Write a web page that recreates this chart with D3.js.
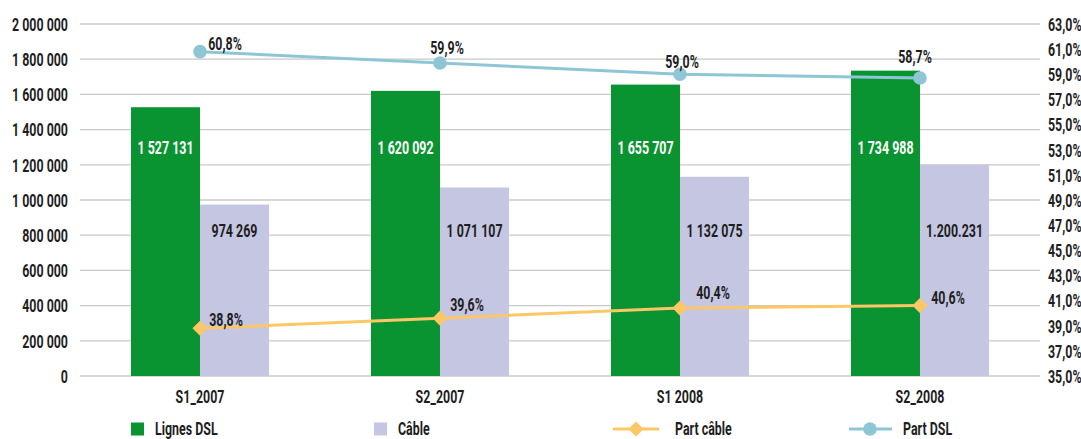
<!DOCTYPE html>
<html>
<head>
<meta charset="utf-8">
<script src="https://cdn.jsdelivr.net/npm/d3@7"></script>
<style>
  html, body { margin: 0; padding: 0; background: #fff; }
  svg { display: block; }
  text { font-family: Roboto, "Liberation Sans", sans-serif; font-weight: bold; fill: #1e1e1e; font-size: 18px; }
</style>
</head>
<body>
<svg id="chart" width="1081" height="439"></svg>
<script>
// ---- data ----
const categories = ["S1_2007", "S2_2007", "S1 2008", "S2_2008"];
const dslLines = [1527131, 1620092, 1655707, 1734988];
const dslLabels = ["1 527 131", "1 620 092", "1 655 707", "1 734 988"];
const cableLines = [974269, 1071107, 1132075, 1200231];
const cableLabels = ["974 269", "1 071 107", "1 132 075", "1.200.231"];
const partCable = [38.8, 39.6, 40.4, 40.6];
const partCableLabels = ["38,8%", "39,6%", "40,4%", "40,6%"];
const partDsl = [60.8, 59.9, 59.0, 58.7];
const partDslLabels = ["60,8%", "59,9%", "59,0%", "58,7%"];
const leftTicks = [0, 200000, 400000, 600000, 800000, 1000000, 1200000, 1400000, 1600000, 1800000, 2000000];
const rightTicks = [35, 37, 39, 41, 43, 45, 47, 49, 51, 53, 55, 57, 59, 61, 63];
const legendLabels = ["Lignes DSL", "Câble", "Part câble", "Part DSL"];

// ---- layout ----
const colors = { dsl: "#0a9331", cable: "#c5c6e2", pcable: "#fdc766", pdsl: "#8ec6d6", grid: "#c8c8c8" };
const plot = { left: 80, right: 1040, top: 24, bottom: 376 };
const SX = 0.69; // horizontal condensing of text
const dslLabelLevel = 1300000, cableLabelLevel = 825000;
const pCableOff = [[26, -9], [27, -13], [33, -15], [28, -8]];
const pDslOff = [[25, -8], [7, -15], [2, -13], [-5, -21]];

const svg = d3.select("#chart");
const fmtLeft = d => d3.format(",")(d).replace(/,/g, " ");
const fmtRight = d => d.toFixed(1).replace(".", ",") + "%";

function ctext(parent, x, y, str, anchor, fill) {
  return parent.append("text")
    .attr("transform", `translate(${x},${y}) scale(${SX},1)`)
    .attr("dy", "0.35em").attr("text-anchor", anchor || "middle")
    .style("fill", fill || "#1e1e1e").text(str);
}

const x = d3.scaleBand().domain(categories).range([plot.left, plot.right]).paddingInner(0).paddingOuter(0);
const bw = 69;
const y = d3.scaleLinear().domain([0, 2000000]).range([plot.bottom, plot.top]);
const y2 = d3.scaleLinear().domain([35, 63]).range([plot.bottom, plot.top]);
const cx = c => x(c) + x.bandwidth() / 2;

// gridlines
svg.append("g").selectAll("line").data(leftTicks).join("line")
  .attr("x1", plot.left).attr("x2", plot.right)
  .attr("y1", d => y(d)).attr("y2", d => y(d))
  .attr("stroke", colors.grid).attr("stroke-width", 1.3);

// left axis
const la = svg.append("g").attr("transform", `translate(${plot.left - 12},0)`)
  .call(d3.axisLeft(y).tickValues(leftTicks).tickFormat(fmtLeft).tickSize(0).tickPadding(0));
la.select(".domain").remove();
la.selectAll("text").attr("x", 0).attr("fill", "#1e1e1e").attr("dy", "0.35em")
  .attr("transform", `scale(${SX},1)`);

// right axis
const ra = svg.append("g").attr("transform", `translate(${plot.right + 8},0)`)
  .call(d3.axisRight(y2).tickValues(rightTicks).tickFormat(fmtRight).tickSize(0).tickPadding(0));
ra.select(".domain").remove();
ra.selectAll("text").attr("x", 0).attr("fill", "#1e1e1e").attr("dy", "0.35em")
  .attr("transform", `scale(${SX},1)`);

// x axis labels
const xa = svg.append("g").attr("transform", `translate(0,${plot.bottom + 21})`)
  .call(d3.axisBottom(x).tickSize(0).tickPadding(0));
xa.select(".domain").remove();
xa.selectAll("text").attr("y", 0).attr("fill", "#1e1e1e").attr("dy", "0.35em")
  .attr("transform", `scale(${SX},1)`);

// bars
svg.append("g").selectAll("rect").data(categories).join("rect")
  .attr("x", c => cx(c) - bw).attr("width", bw)
  .attr("y", (c, i) => y(dslLines[i])).attr("height", (c, i) => y(0) - y(dslLines[i]))
  .attr("fill", colors.dsl);
svg.append("g").selectAll("rect").data(categories).join("rect")
  .attr("x", c => cx(c)).attr("width", bw)
  .attr("y", (c, i) => y(cableLines[i])).attr("height", (c, i) => y(0) - y(cableLines[i]))
  .attr("fill", colors.cable);

// bar labels
const bl = svg.append("g");
categories.forEach((c, i) => {
  ctext(bl, cx(c) - bw / 2, y(dslLabelLevel), dslLabels[i], "middle", "#ffffff");
  ctext(bl, cx(c) + bw / 2, y(cableLabelLevel), cableLabels[i], "middle");
});

// lines
const lineC = d3.line().x((d, i) => cx(categories[i])).y(d => y2(d));
svg.append("path").datum(partCable).attr("d", lineC).attr("fill", "none")
  .attr("stroke", colors.pcable).attr("stroke-width", 3);
svg.append("path").datum(partDsl).attr("d", lineC).attr("fill", "none")
  .attr("stroke", colors.pdsl).attr("stroke-width", 3);

svg.append("g").selectAll("path").data(partCable).join("path")
  .attr("d", d3.symbol().type(d3.symbolSquare).size(115))
  .attr("transform", (d, i) => `translate(${cx(categories[i])},${y2(d)}) rotate(45)`)
  .attr("fill", colors.pcable);
svg.append("g").selectAll("circle").data(partDsl).join("circle")
  .attr("cx", (d, i) => cx(categories[i])).attr("cy", d => y2(d)).attr("r", 6.8)
  .attr("fill", colors.pdsl);

// line labels
const ll = svg.append("g");
partCable.forEach((d, i) => ctext(ll, cx(categories[i]) + pCableOff[i][0], y2(d) + pCableOff[i][1], partCableLabels[i]));
partDsl.forEach((d, i) => ctext(ll, cx(categories[i]) + pDslOff[i][0], y2(d) + pDslOff[i][1], partDslLabels[i]));

// legend
const ly = 429;
const lg = svg.append("g");
lg.append("rect").attr("x", 131).attr("y", ly - 6.5).attr("width", 13).attr("height", 13).attr("fill", colors.dsl);
ctext(lg, 155, ly, legendLabels[0], "start");
lg.append("rect").attr("x", 374).attr("y", ly - 6.5).attr("width", 13).attr("height", 13).attr("fill", colors.cable);
ctext(lg, 398, ly, legendLabels[1], "start");
lg.append("line").attr("x1", 613).attr("x2", 659).attr("y1", ly).attr("y2", ly).attr("stroke", colors.pcable).attr("stroke-width", 3);
lg.append("path").attr("d", d3.symbol().type(d3.symbolSquare).size(115)())
  .attr("transform", `translate(636,${ly}) rotate(45)`).attr("fill", colors.pcable);
ctext(lg, 675, ly, legendLabels[2], "start");
lg.append("line").attr("x1", 849).attr("x2", 892).attr("y1", ly).attr("y2", ly).attr("stroke", colors.pdsl).attr("stroke-width", 3);
lg.append("circle").attr("cx", 870).attr("cy", ly).attr("r", 6.8).attr("fill", colors.pdsl);
ctext(lg, 903, ly, legendLabels[3], "start");
</script>
</body>
</html>
